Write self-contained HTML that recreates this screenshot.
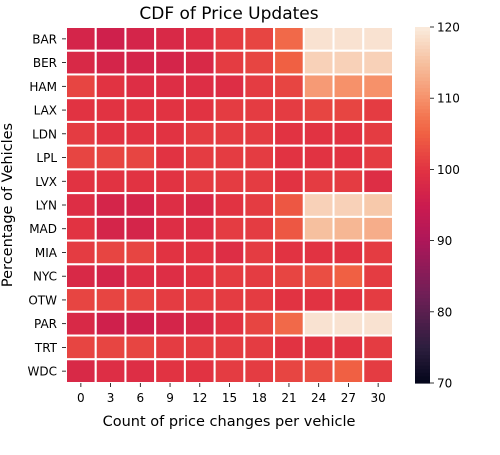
<!DOCTYPE html>
<html><head><meta charset="utf-8"><style>
body{margin:0;background:#fff;font-family:"Liberation Sans","DejaVu Sans",sans-serif}
</style></head><body>
<svg id="c" width="500" height="450" xmlns="http://www.w3.org/2000/svg" font-family="DejaVu Sans, Liberation Sans, sans-serif">
<defs><linearGradient id="cb" x1="0" y1="1" x2="0" y2="0"></linearGradient></defs>
<text x="229" y="19" text-anchor="middle" font-size="17">CDF of Price Updates</text>
<text transform="translate(12,205) rotate(-90)" text-anchor="middle" font-size="14.5">Percentage of Vehicles</text>
<text x="229" y="426" text-anchor="middle" font-size="14.5">Count of price changes per vehicle</text>
<g id="g"></g>
</svg>
<script>
const rows=["BAR","BER","HAM","LAX","LDN","LPL","LVX","LYN","MAD","MIA","NYC","OTW","PAR","TRT","WDC"];
const cols=[0,3,6,9,12,15,18,21,24,27,30];
const values=[
[97,96,97,98,99,101,102,106,119,119,119],
[98,97,97,97,98,101,102,105,117,117,117],
[102,100,99,99,99,99,101,102,111,110,110],
[100,100,100,100,100,101,101,101,102,102,101],
[101,100,100,100,101,101,101,100,100,100,101],
[102,102,102,100,101,101,101,100,100,100,101],
[100,100,100,100,101,101,101,100,101,101,99],
[99,97,97,99,98,100,101,104,117,117,116],
[100,97,97,99,99,101,101,104,115,114,113],
[101,102,102,100,100,99,101,100,100,100,101],
[98,97,99,99,100,101,101,102,103,105,101],
[102,102,102,101,101,101,101,100,100,100,101],
[98,96,96,97,98,100,102,106,119,119,119],
[102,102,102,101,101,101,101,100,100,100,101],
[98,99,99,100,100,101,101,102,103,105,101]];
const cbTicks=[70,80,90,100,110,120];
const vmin=70,vmax=120;
const stops=[[0,"#03051A"],[0.1,"#2C1E3E"],[0.25,"#701F57"],[0.4,"#AD1759"],[0.5,"#CB1B4F"],[0.6,"#E13342"],[0.7,"#F06043"],[0.75,"#F37651"],[0.8,"#F6916A"],[0.9,"#F6C09F"],[1,"#FAEBDD"]];
function hx(h){return [1,3,5].map(i=>parseInt(h.substr(i,2),16));}
function cmap(v){let t=Math.max(0,Math.min(1,(v-vmin)/(vmax-vmin)));
for(let i=1;i<stops.length;i++){if(t<=stops[i][0]){const a=stops[i-1],b=stops[i];const f=(t-a[0])/(b[0]-a[0]);const A=hx(a[1]),B=hx(b[1]);return "rgb("+A.map((x,k)=>Math.round(x+(B[k]-x)*f)).join(",")+")";}}return stops[stops.length-1][1];}
const X0=66,X1=393,Y0=27,Y1=383;
const cw=(X1-X0)/cols.length,ch=(Y1-Y0)/rows.length;
const xs=i=>X0+i*cw, ys=j=>Y0+j*ch;
const NS="http://www.w3.org/2000/svg",g=document.getElementById("g");
function mk(t,a){const e=document.createElementNS(NS,t);for(const k in a)e.setAttribute(k,a[k]);g.appendChild(e);return e;}
values.forEach((r,j)=>r.forEach((v,i)=>{
const e=mk("rect",{x:xs(i),y:ys(j),width:cw,height:ch,fill:cmap(v),stroke:"#fff","stroke-width":2});


}));
rows.forEach((r,j)=>{const y=ys(j)+ch/2;
mk("line",{x1:X0-4,x2:X0,y1:y,y2:y,stroke:"#000","stroke-width":0.8});
const t=mk("text",{x:X0-9,y:y+4.5,"text-anchor":"end","font-size":12});t.textContent=r;

});
cols.forEach((c,i)=>{const x=xs(i)+cw/2;
mk("line",{x1:x,x2:x,y1:Y1,y2:Y1+4,stroke:"#000","stroke-width":0.8});
const t=mk("text",{x:x,y:Y1+19,"text-anchor":"middle","font-size":12});t.textContent=c;

});
// colorbar
const CX=415,CW=15,CY0=27,CY1=383;
const N=100;
for(let k=0;k<N;k++){const v=vmin+(vmax-vmin)*(k+0.5)/N;const y=CY1-(k+1)*(CY1-CY0)/N;
const e=mk("rect",{x:CX,y:y,width:CW,height:(CY1-CY0)/N+0.6,fill:cmap(v)});

}
cbTicks.forEach(v=>{const y=CY1-(v-vmin)/(vmax-vmin)*(CY1-CY0);
mk("line",{x1:CX+CW,x2:CX+CW+4,y1:y,y2:y,stroke:"#000","stroke-width":0.8});
const t=mk("text",{x:CX+CW+7,y:y+4.5,"font-size":12});t.textContent=v;

});
</script>
</body></html>
